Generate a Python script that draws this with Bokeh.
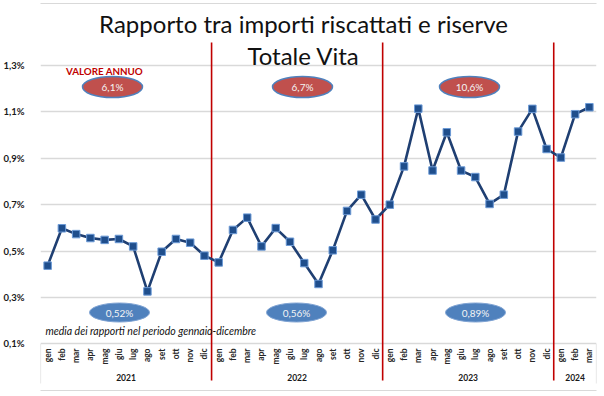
import math
from bokeh.plotting import figure
from bokeh.models import FactorRange, Range1d, FixedTicker, CustomJSTickFormatter
from bokeh.embed import file_html
from bokeh.resources import INLINE
from bokeh.core.properties import value

# ---------------- data ----------------
years = ["2021", "2022", "2023", "2024"]
months = ["gen", "feb", "mar", "apr", "mag", "giu", "lug", "ago", "set", "ott", "nov", "dic"]
months_per_year = [12, 12, 12, 3]
ratio = [0.437, 0.598, 0.573, 0.556, 0.548, 0.552, 0.520, 0.326, 0.497, 0.552, 0.536, 0.480,
         0.451, 0.591, 0.644, 0.520, 0.599, 0.540, 0.448, 0.358, 0.503, 0.673, 0.743, 0.636,
         0.700, 0.865, 1.114, 0.847, 1.012, 0.847, 0.819, 0.703, 0.743, 1.015, 1.113, 0.940,
         0.903, 1.090, 1.120]
annual_value = ["6,1%", "6,7%", "10,6%"]
period_avg = ["0,52%", "0,56%", "0,89%"]
y_ticks = [0.1, 0.3, 0.5, 0.7, 0.9, 1.1, 1.3]

title_1 = "Rapporto tra importi riscattati e riserve"
title_2 = "Totale Vita"
annual_label = "VALORE ANNUO"
avg_label = "media dei rapporti nel periodo gennaio-dicembre"

factors = [(y, m) for y, n in zip(years, months_per_year) for m in months[:n]]
month_labels = [m for (_, m) in factors]
n_f = len(factors)
boundaries = []
acc = 0
for n in months_per_year[:-1]:
    acc += n
    boundaries.append(acc)

# ---------------- layout helpers (page pixel -> data) ----------------
W, H = 604, 396
FRAME_L, FRAME_R, FRAME_T, FRAME_B = 40, 596, 0, 396
Y01, Y13 = 343.3, 65.0
PX_PER_UNIT_Y = (Y01 - Y13) / 1.2
PX_PER_UNIT_X = (FRAME_R - FRAME_L) / n_f


def py(Y):
    return 0.1 + (Y01 - Y) / PX_PER_UNIT_Y


def px(X):
    return (X - FRAME_L) / PX_PER_UNIT_X


FONT = value("Lato")

p = figure(width=W, height=H,
           x_range=FactorRange(*factors, factor_padding=0, group_padding=0,
                               subgroup_padding=0, range_padding=0),
           y_range=Range1d(py(FRAME_B), py(FRAME_T)),
           output_backend="svg", toolbar_location=None, x_axis_location=None,
           min_border_left=FRAME_L, min_border_right=W - FRAME_R,
           min_border_top=0, min_border_bottom=0)
p.outline_line_color = None
p.background_fill_color = "white"
p.border_fill_color = "white"

# y axis
ax = p.yaxis[0]
ax.ticker = FixedTicker(ticks=y_ticks)
ax.formatter = CustomJSTickFormatter(code="return tick.toFixed(1).replace('.', ',') + '%';")
ax.axis_line_color = None
ax.major_tick_line_color = None
ax.minor_tick_line_color = None
ax.major_label_standoff = 10
ax.major_label_text_font = "Lato"
ax.major_label_text_font_style = "bold"
ax.major_label_text_font_size = "9.5px"
ax.major_label_text_color = "#1a1a1a"
p.xgrid.grid_line_color = None
p.ygrid.grid_line_color = "#D9D9D9"
p.ygrid.grid_line_width = 1.3

# outer chart border (left / top / bottom)
p.segment(x0=[px(7.5), px(7.5), px(7.5)], y0=[py(3), py(3), py(390)],
          x1=[px(7.5), px(604), px(604)], y1=[py(390), py(3), py(390)],
          line_color="#D9D9D9", line_width=1.2)

# category box
p.segment(x0=[0, n_f], y0=[0.1, 0.1], x1=[0, n_f], y1=[py(383), py(383)],
          line_color="#D9D9D9", line_width=1.2)

# year separators
p.segment(x0=boundaries, y0=[py(380)] * len(boundaries), x1=boundaries,
          y1=[py(42)] * len(boundaries), line_color="#C00000", line_width=1.6)

# series
p.line(x=factors, y=ratio, line_color="#1F3F72", line_width=2.6)
p.scatter(x=factors, y=ratio, marker="square", size=7.5,
          fill_color="#1F4E8C", line_color="#6C9AD6", line_width=1)

# month & year labels
p.text(x=factors, y=[py(348)] * n_f, text=month_labels, angle=math.pi / 2,
       text_align="right", text_baseline="middle", text_font=FONT,
       text_font_style="bold", text_font_size="8.5px", text_color="#262626")
p.text(x=years, y=[py(377)] * len(years), text=years, text_align="center",
       text_baseline="middle", text_font=FONT, text_font_style="bold",
       text_font_size="8.5px", text_color="#1a1a1a")

# annual-value ellipses (red) and period-average ellipses (blue)
red_x = [px(112), px(302), px(469)]
blue_x = [px(119), px(296), px(475)]
p.ellipse(x=red_x, y=[py(86.5)] * 3, width=60, height=21, width_units="screen",
          height_units="screen", fill_color="#C0504D", line_color="#4F81BD", line_width=1.5)
p.text(x=red_x, y=[py(86.5)] * 3, text=annual_value, text_align="center",
       text_baseline="middle", text_font=FONT, text_font_size="10px", text_color="#F4F4F4")
p.ellipse(x=blue_x, y=[py(312)] * 3, width=60, height=19, width_units="screen",
          height_units="screen", fill_color="#4F81BD", line_color="#7FA3D3", line_width=1)
p.text(x=blue_x, y=[py(312)] * 3, text=period_avg, text_align="center",
       text_baseline="middle", text_font=FONT, text_font_size="10px", text_color="#F4F4F4")

# texts
p.text(x=[px(104)], y=[py(70)], text=[annual_label], text_align="center",
       text_baseline="middle", text_font=FONT, text_font_style="bold",
       text_font_size="9.8px", text_color="#C00000")
p.text(x=[px(45)], y=[py(330)], text=[avg_label], text_align="left",
       text_baseline="middle", text_font=FONT, text_font_style="italic",
       text_font_size="10.5px", text_color="#111111")
p.text(x=[px(303), px(303)], y=[py(23), py(55)], text=[title_1, title_2],
       text_align="center", text_baseline="middle", text_font=FONT,
       text_font_size="24px", text_color="#111111")

open("out.html", "w").write(file_html(p, INLINE))
